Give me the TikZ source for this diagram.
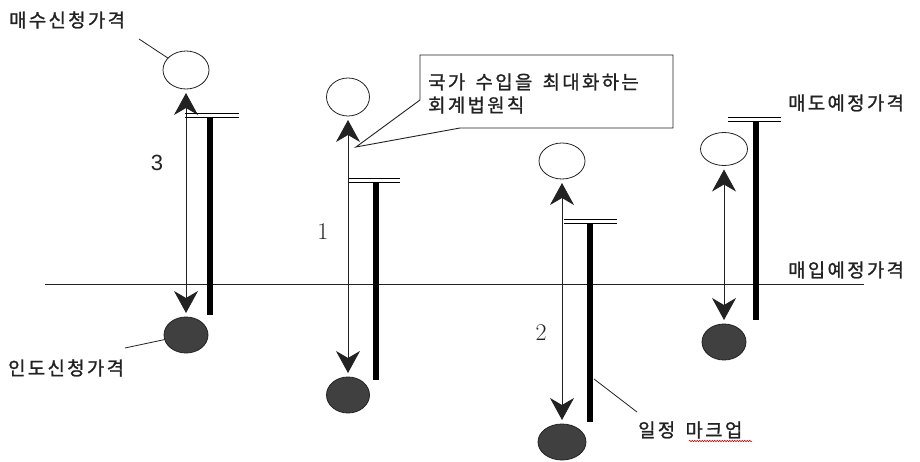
\documentclass[tikz,border=0pt]{standalone}
\usepackage{fontspec}
\usetikzlibrary{shapes.geometric,arrows.meta,decorations.pathmorphing}
\newfontfamily\kr{Noto Sans CJK KR}[FakeBold=1.2]
\newfontfamily\numsans{Liberation Sans}
\ExplSyntaxOn
\NewDocumentCommand\lsp{m}{\tl_map_inline:nn{#1}{##1\kern2.4pt}}
\ExplSyntaxOff
\newcommand\wsp{\hspace{8pt}}
\definecolor{ink}{HTML}{222222}
\definecolor{dot}{HTML}{404040}
\tikzset{
  openb/.style={ellipse, draw=ink, line width=0.8pt, inner sep=0pt, outer sep=0pt},
  fillb/.style={openb, fill=dot},
  rng/.style={draw=ink, line width=0.9pt, shorten <=4pt, shorten >=4pt,
     >={Stealth[length=22pt,width=24pt,inset=7pt]}, <->},
  bar/.style={draw=black, line width=5.5pt},
  thin/.style={draw=black, line width=0.9pt},
  lbl/.style={font=\kr\fontsize{18.8}{22}\selectfont, text=ink, inner sep=0pt, anchor=west},
  num/.style={font=\fontsize{24}{26}\selectfont, text=ink, inner sep=0pt},
  lead/.style={draw=ink, line width=0.8pt}
}
\begin{document}
\begin{tikzpicture}[x=1pt,y=-1pt]
\useasboundingbox (0,0) rectangle (920,462);
\fill[white] (0,0) rectangle (920,462);

% baseline (purchase planned price)
\coordinate (hl) at (45,284);
\coordinate (hr) at (864,284);
\draw[draw=ink, line width=0.9pt] (hl) -- (hr);

% group 1
\node[openb, minimum width=46pt, minimum height=38pt] (o1) at (186,70) {};
\node[fillb, minimum width=44pt, minimum height=36pt] (f1) at (186,335) {};
\draw[rng] (o1) -- (f1);
\coordinate (d1a) at (185,113); \coordinate (d1b) at (239,113);
\coordinate (e1a) at (185,117); \coordinate (e1b) at (239,117);
\draw[thin] (d1a) -- (d1b); \draw[thin] (e1a) -- (e1b);
\coordinate (t1) at (210,117); \coordinate (b1) at (210,315);
\draw[bar] (t1) -- (b1);
\node[num, font=\numsans\fontsize{22}{24}\selectfont] (n3) at (157,163) {3};

% group 2
\node[openb, minimum width=43pt, minimum height=38pt] (o2) at (348,97) {};
\node[fillb, minimum width=43pt, minimum height=36pt] (f2) at (348,395) {};
\draw[rng] (o2) -- (f2);
\coordinate (d2a) at (349,178); \coordinate (d2b) at (400,178);
\coordinate (e2a) at (349,182); \coordinate (e2b) at (400,182);
\draw[thin] (d2a) -- (d2b); \draw[thin] (e2a) -- (e2b);
\coordinate (t2) at (376,182); \coordinate (b2) at (376,380);
\draw[bar] (t2) -- (b2);
\node[num] (n1) at (323,232) {1};

% group 3
\node[openb, minimum width=46pt, minimum height=36pt] (o3) at (562,161) {};
\node[fillb, minimum width=48pt, minimum height=36pt] (f3) at (562,442) {};
\draw[rng] (o3) -- (f3);
\coordinate (d3a) at (564,219); \coordinate (d3b) at (617,219);
\coordinate (e3a) at (564,223); \coordinate (e3b) at (617,223);
\draw[thin] (d3a) -- (d3b); \draw[thin] (e3a) -- (e3b);
\coordinate (t3) at (590,223); \coordinate (b3) at (590,422);
\draw[bar] (t3) -- (b3);
\node[num] (n2) at (541,333) {2};

% group 4
\node[openb, minimum width=47pt, minimum height=33pt] (o4) at (724,149) {};
\node[fillb, minimum width=44pt, minimum height=36pt] (f4) at (724,342) {};
\draw[rng] (o4) -- (f4);
\coordinate (d4a) at (728,117) ; \coordinate (d4b) at (781,117);
\coordinate (e4a) at (728,121) ; \coordinate (e4b) at (781,121);
\draw[thin] (d4a) -- (d4b); \draw[thin] (e4a) -- (e4b);
\coordinate (t4) at (756,121); \coordinate (b4) at (756,320);
\draw[bar] (t4) -- (b4);

% labels
\node[lbl] (buy) at (9,20) {\lsp{매수신청가격}};
\coordinate (c1) at (139,39);
\draw[lead] (c1) -- (o1);
\node[lbl] (sell) at (8,368) {\lsp{인도신청가격}};
\coordinate (c2) at (125,348);
\draw[lead] (c2) -- (f1);
\node[lbl] (mk) at (638,430) {\lsp{일정}\wsp\lsp{마크업}};
\coordinate (m1) at (594,379);
\coordinate (m2) at (637,412);
\draw[lead] (m1) -- (m2);
\coordinate (w1) at (689,441); \coordinate (w2) at (752,441);
\draw[red!80!black, line width=0.5pt, decorate, decoration={snake, amplitude=0.8pt, segment length=2.5pt}] (w1) -- (w2);
\node[lbl] (sp) at (788,103) {\lsp{매도예정가격}};
\node[lbl] (bp) at (788,270) {\lsp{매입예정가격}};

% callout
\coordinate (k1) at (420,55); \coordinate (k2) at (673,55);
\coordinate (k3) at (673,128); \coordinate (k4) at (460,128);
\coordinate (tip) at (356,147); \coordinate (k5) at (420,100);
\draw[draw=ink, line width=0.9pt, fill=white] (k1) -- (k2) -- (k3) -- (k4) -- (tip) -- (k5) -- cycle;
\node[lbl] (cl1) at (428,82) {\lsp{국가}\wsp\lsp{수입을}\wsp\lsp{최대화하는}};
\node[lbl] (cl2) at (428,105) {\lsp{회계법원칙}};
\end{tikzpicture}
\end{document}
